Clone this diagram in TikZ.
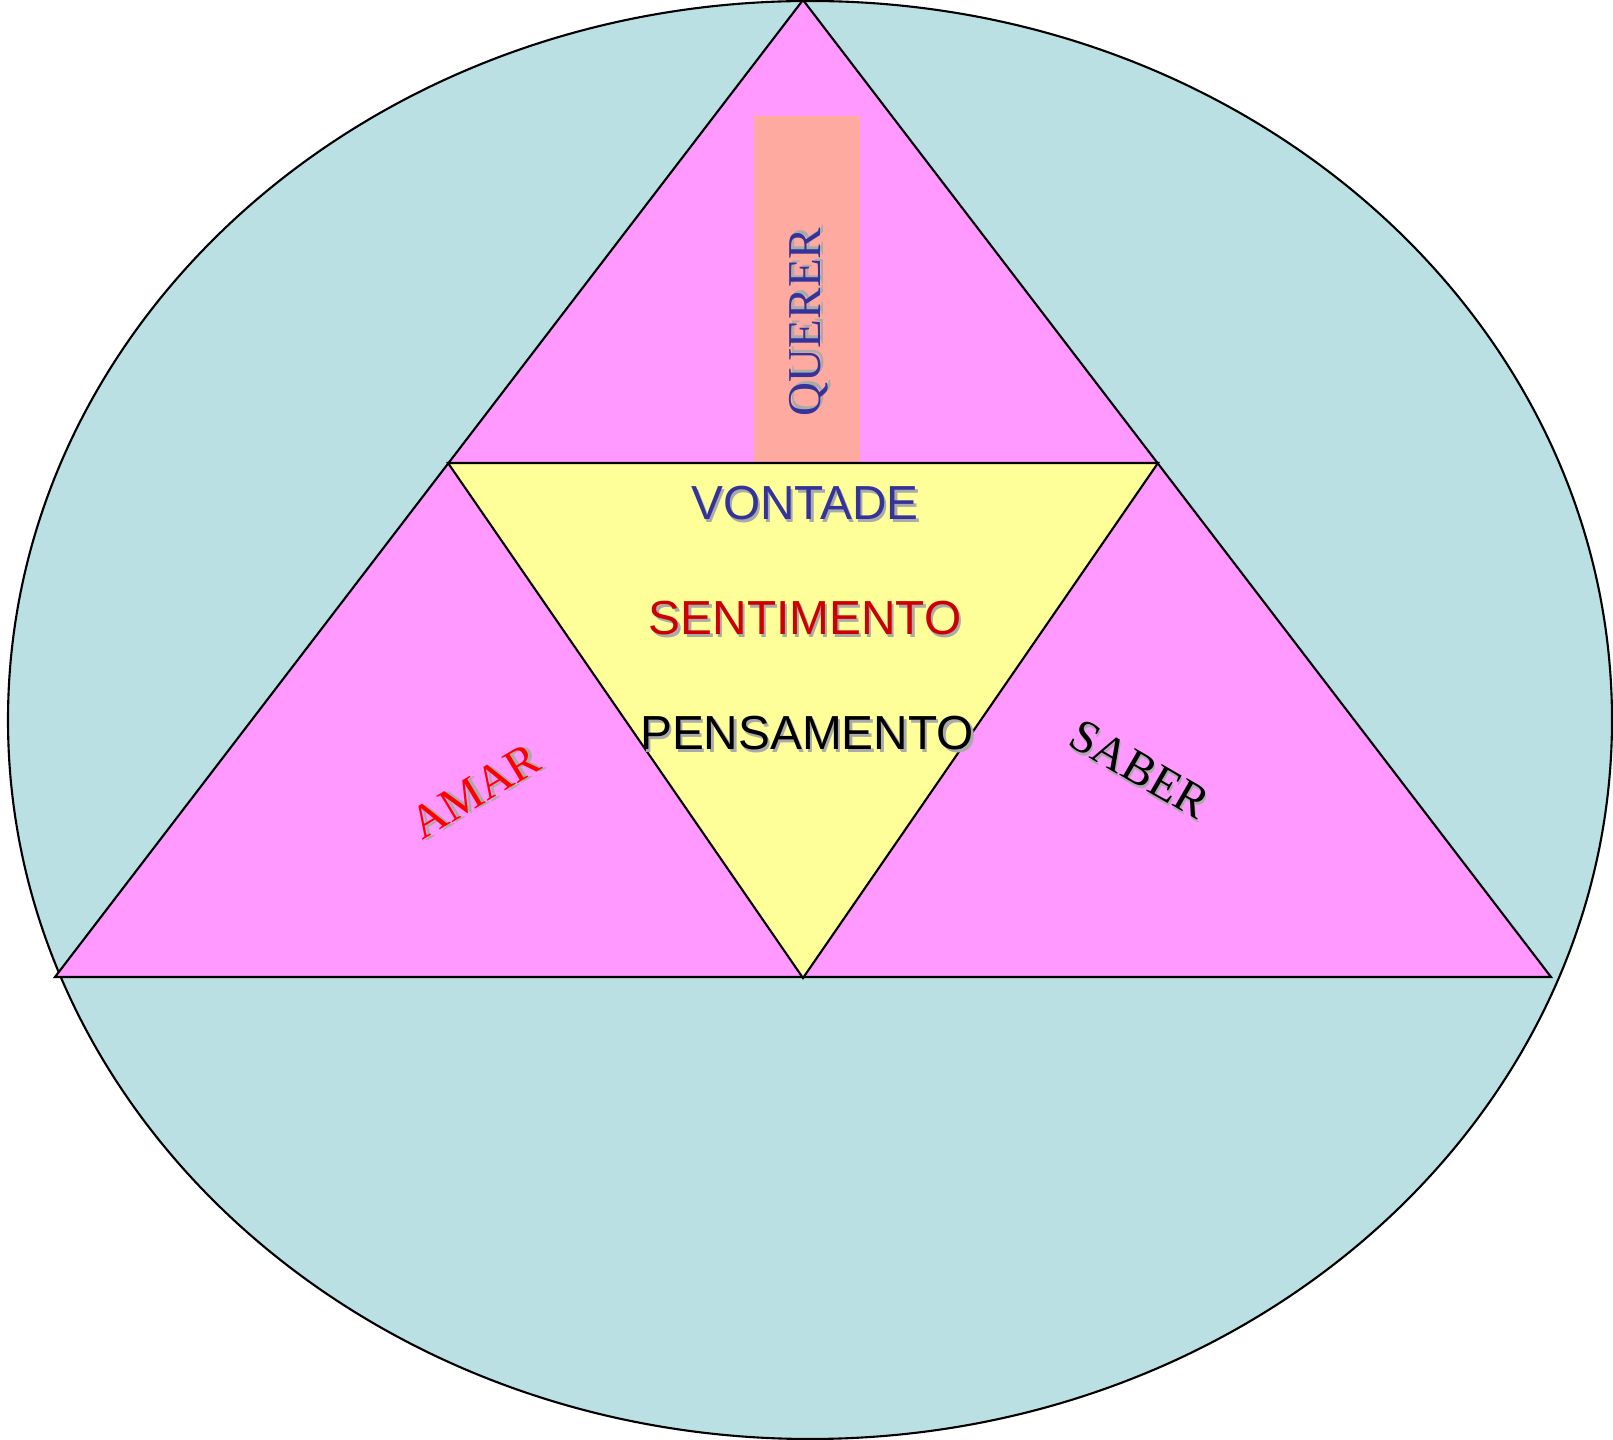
\documentclass[tikz,border=0pt]{standalone}
\usepackage{fontspec}
\setmainfont{Liberation Serif}
\newfontfamily\arialfont{Liberation Sans}
\usepackage{tikz}
\definecolor{figSea}{RGB}{187,224,227}
\definecolor{figPink}{RGB}{255,153,255}
\definecolor{figSalmon}{RGB}{255,170,160}
\definecolor{figYel}{RGB}{255,255,153}
\definecolor{figBlue}{RGB}{51,51,153}
\definecolor{figRed}{RGB}{204,0,0}
\definecolor{figShade}{RGB}{170,170,170}
% word with a soft grey shadow behind it
\newcommand{\shwd}[1]{\makebox[0pt][l]{\hspace{0.7pt}\raisebox{-0.7pt}{\color{figShade}#1}}#1}
\tikzset{
  edge/.style={draw=black, line width=0.6pt, line join=miter},
  sanslbl/.style={font=\arialfont\fontsize{13.6}{15}\selectfont, anchor=base, inner sep=0pt},
  seriflbl/.style={font=\fontsize{13.4}{15}\selectfont, inner sep=0pt}
}

\begin{document}
\begin{tikzpicture}
\useasboundingbox (0,0) rectangle (16.13,14.40);
% ===== outer ellipse =====
\draw[edge, fill=figSea] (8.10,7.20) ellipse [x radius=8.02, y radius=7.19];
% ===== corners of the big triangle and of the inner one =====
\coordinate (apex) at (8.03,14.40);
\coordinate (bl) at (0.55,4.63);
\coordinate (br) at (15.51,4.63);
\coordinate (lm) at (4.48,9.77);
\coordinate (rm) at (11.58,9.77);
\coordinate (bm) at (8.03,4.62);
\draw[edge, fill=figPink] (apex) -- (bl) -- (br) -- cycle;
% column behind the upright word
\fill[figSalmon] (7.54,9.77) rectangle (8.60,13.24);
\draw[edge, fill=figYel] (lm) -- (rm) -- (bm) -- cycle;
% ===== words =====
\node[sanslbl, text=figBlue] (vontade) at (8.05,9.20) {\shwd{VONTADE}};
\node[sanslbl, text=figRed] (sentimento) at (8.05,8.05) {\shwd{SENTIMENTO}};
\node[sanslbl, text=black] (pensamento) at (8.07,6.90) {\shwd{PENSAMENTO}};
\node[seriflbl, text=figBlue, rotate=90] (querer) at (8.10,11.18) {\shwd{QUERER}};
\node[seriflbl, text=red, rotate=31] (amar) at (4.76,6.48) {\shwd{AMAR}};
\node[seriflbl, text=black, rotate=-30] (saber) at (11.39,6.70) {\shwd{SABER}};
\end{tikzpicture}
\end{document}
